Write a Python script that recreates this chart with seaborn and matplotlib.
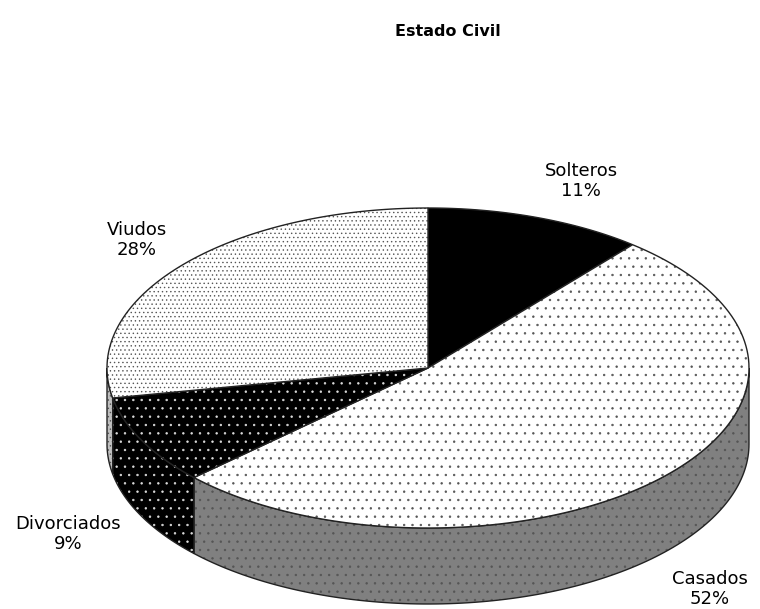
import numpy as np
import matplotlib.pyplot as plt
import matplotlib.patches as mpatches
import seaborn as sns

# Estado Civil - 3D pie
labels = ['Solteros', 'Casados', 'Divorciados', 'Viudos']
values = [11, 52, 9, 28]

# styling per slice
top_fill = ['black', 'white', 'black', 'white']
side_fill = ['black', 'grey', 'black', 'silver']
dot_color = ['black', '#555555', '#dddddd', '#555555']
dot_hatch = [None, '..', '..', '....']
label_xy = [(581, 181), (710, 589), (68, 534), (137, 240)]

sns.set_theme(style='white')
plt.rcParams['font.family'] = ['DejaVu Sans']
plt.rcParams['text.color'] = 'black'
plt.rcParams['hatch.linewidth'] = 0.5

cx, cy, a, b, depth = 428, 368, 321, 160, 76


def arc(t1, t2, dy=0):
    t = np.linspace(np.radians(t1), np.radians(t2), 120)
    return np.column_stack([cx + a * np.cos(t), cy - b * np.sin(t) + dy])


def add_poly(ax, pts, fc, hc, hatch):
    ax.add_patch(mpatches.Polygon(pts, closed=True, facecolor=fc, edgecolor='none', lw=0))
    if hatch:
        ax.add_patch(mpatches.Polygon(pts, closed=True, facecolor='none', edgecolor=hc,
                                      lw=0, hatch=hatch))
    ax.add_patch(mpatches.Polygon(pts, closed=True, facecolor='none', edgecolor='#222222', lw=1))


fig = plt.figure(figsize=(7.6, 6.09), dpi=100)
ax = fig.add_axes([0, 0, 1, 1])
ax.set_xlim(0, 760)
ax.set_ylim(609, 0)
ax.axis('off')

# slice angles, clockwise from top
fracs = np.array(values) / np.sum(values)
ends = 90 - np.cumsum(fracs) * 360
starts = np.concatenate([[90], ends[:-1]])

# front sides (angles between -180 and 0 are visible)
for i in range(len(values)):
    s, e = starts[i], ends[i]
    for shift in (0, -360, 360):
        hi = min(s + shift, 0)
        lo = max(e + shift, -180)
        if hi > lo:
            top = arc(hi, lo)
            bot = arc(lo, hi, depth)
            add_poly(ax, np.vstack([top, bot]), side_fill[i], dot_color[i], dot_hatch[i])

# tops
for i in range(len(values)):
    pts = np.vstack([[cx, cy], arc(starts[i], ends[i])])
    add_poly(ax, pts, top_fill[i], dot_color[i], dot_hatch[i])

for i, lab in enumerate(labels):
    ax.text(label_xy[i][0], label_xy[i][1], f'{lab}\n{values[i]}%', ha='center', va='center',
            fontsize=13, color='black', linespacing=1.15)

ax.text(448, 32, 'Estado Civil', ha='center', va='center', fontsize=11.5,
        fontweight='bold', color='black')

plt.savefig('out.png', dpi=100)
plt.close()
